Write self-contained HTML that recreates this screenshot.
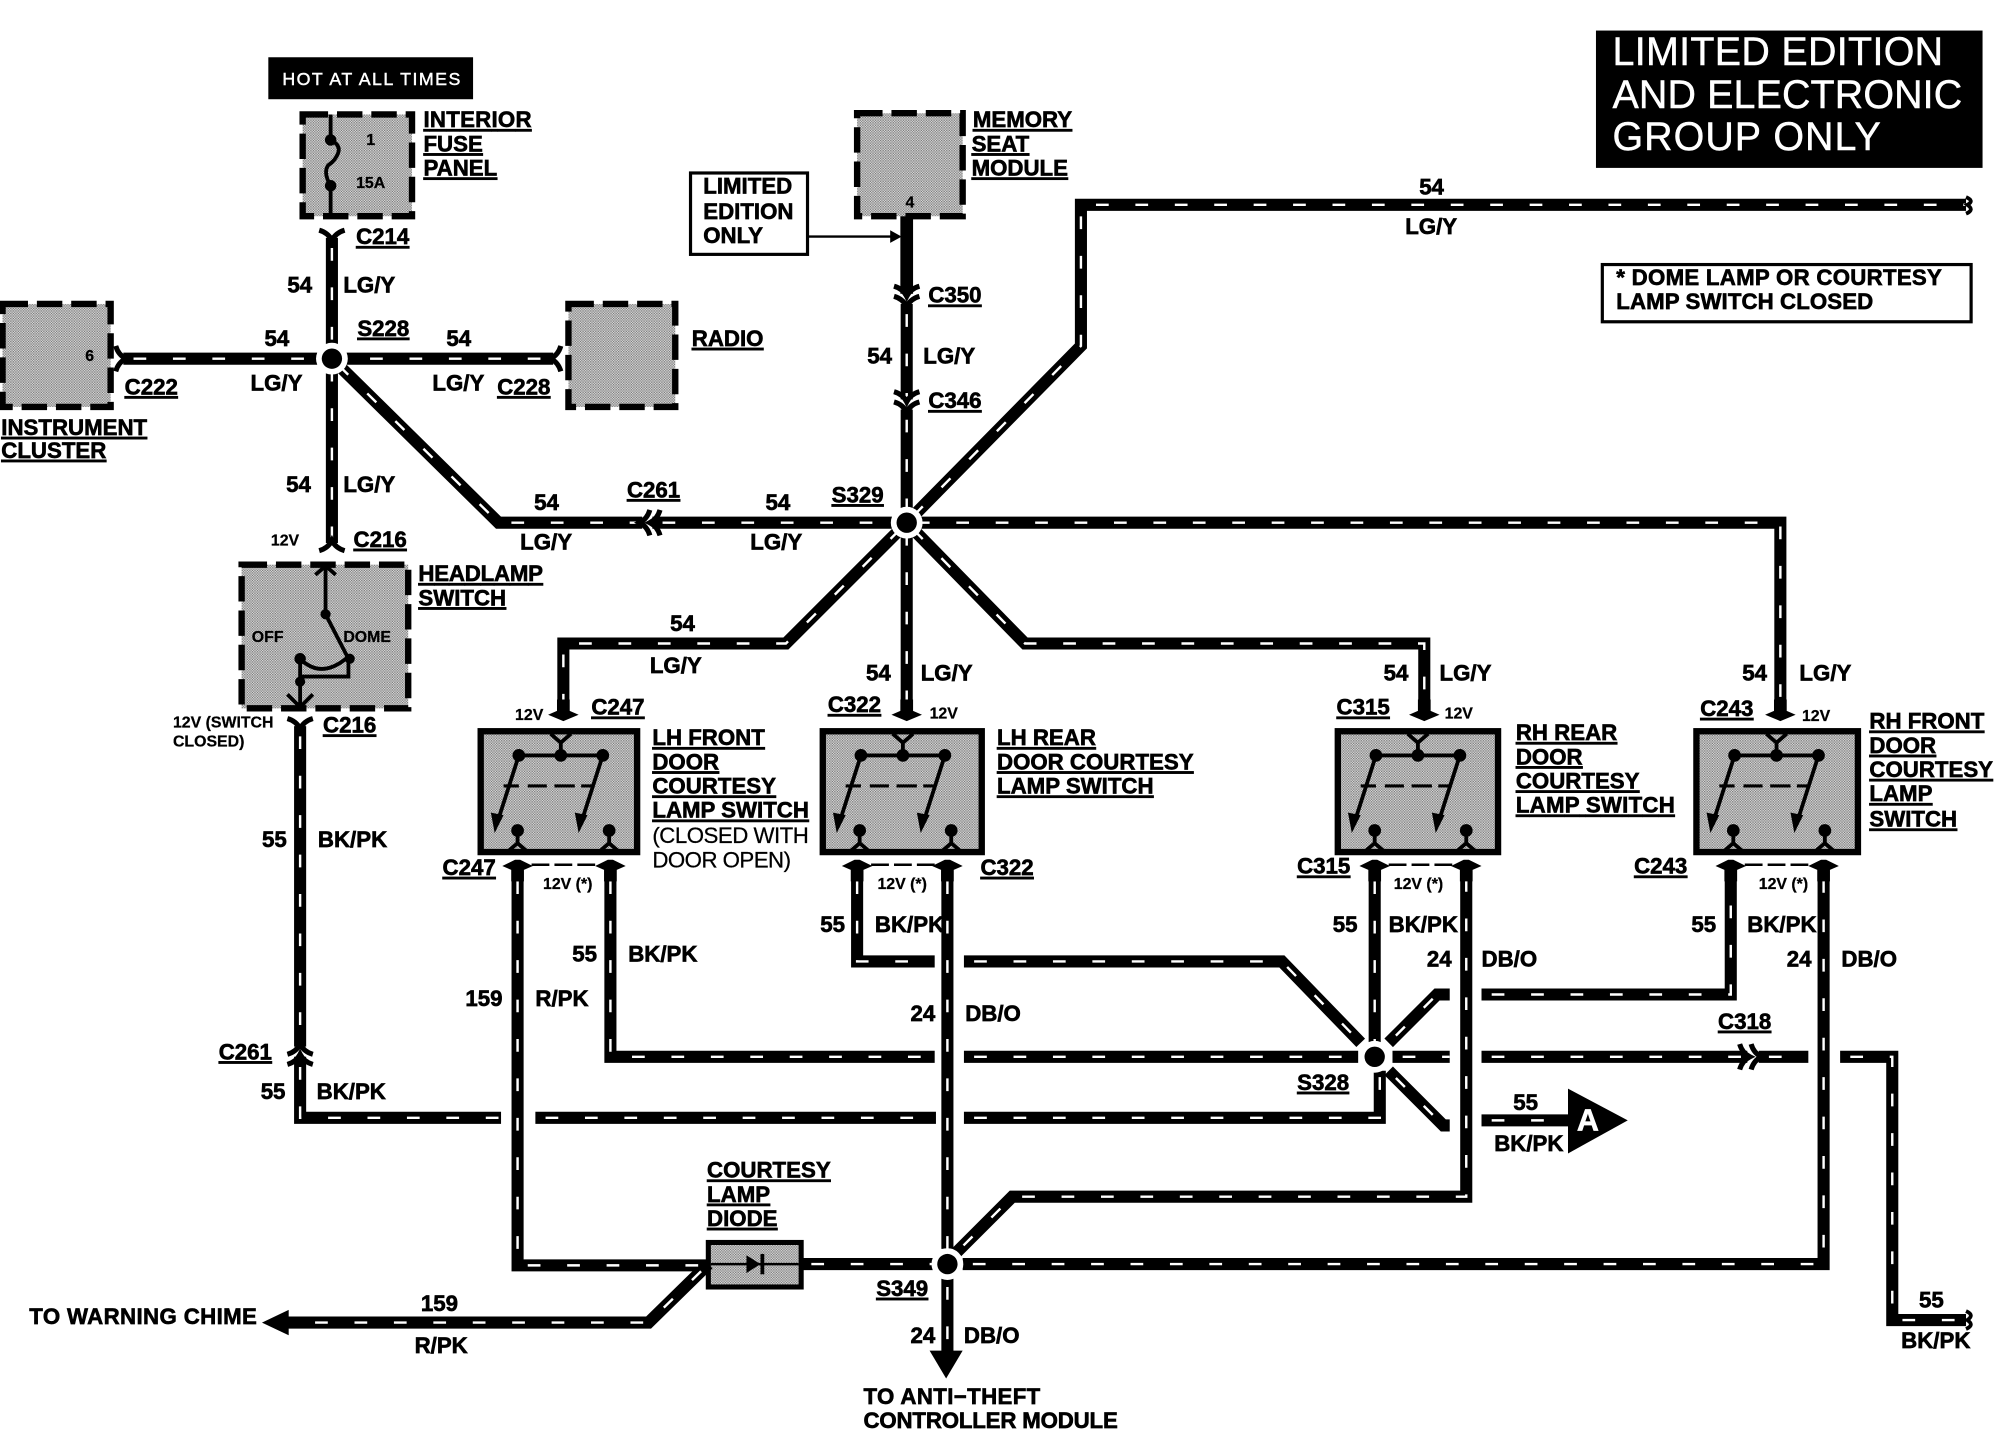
<!DOCTYPE html>
<html lang="en">
<head>
<meta charset="utf-8">
<title>Courtesy Lamp Wiring Diagram</title>
<style>
html,body{margin:0;padding:0;background:#fff;width:1994px;height:1440px;overflow:hidden}
svg{display:block}
text{font-family:"Liberation Sans",sans-serif;font-weight:bold;font-size:17.5px;fill:#000;stroke:#000;stroke-width:.5px}
.u{text-decoration:underline}
.s{font-size:12.5px;stroke-width:.2px}
.wt{fill:#fff;stroke:#fff;stroke-width:.35px;font-weight:normal}
.wb{fill:none;stroke:#000;stroke-width:9.5;stroke-linejoin:miter}
.wd{fill:none;stroke:#fff;stroke-width:1.9;stroke-dasharray:10 21;stroke-dashoffset:-8}
.box{fill:url(#st);stroke:#000;stroke-width:5;stroke-dasharray:20 7}
.sw{fill:url(#st);stroke:#000;stroke-width:5}
</style>
</head>
<body>
<svg xmlns="http://www.w3.org/2000/svg" width="1994" height="1440" viewBox="0 0 1568 1132.3">
<defs>
<pattern id="st" width="2" height="2" patternUnits="userSpaceOnUse">
<rect width="2" height="2" fill="#d6d6d6"/>
<rect width="1" height="1" fill="#7c7c7c"/>
<rect x="1" y="1" width="1" height="1" fill="#8c8c8c"/>
</pattern>
<g id="w">
<path d="M261 187V282M97 282H435M261 282V427M261 282L392 411H505M513 411H713"/>
<path d="M713 239V314M713 322V411M713 411L850 272V161H1546"/>
<path d="M713 411H1400V560M713 411L618 506H443V558M713 411V560M713 411L806 506H1120V560"/>
<path d="M236 571V823M236 831V879H394M421 879H736M758 879H1085V842"/>
<path d="M407 685V995H557M480 685V831H735M758 831H1068M1095 831H1140M1165 831H1374M1383 831H1422M1447 831H1488V1038H1546"/>
<path d="M630 994H735M757 994H1434V685M745 685V982M745 1004V1065"/>
<path d="M752 985L796 941H1153V685"/>
<path d="M674 685V756H735M758 756H1008L1070 820M1081 685V820"/>
<path d="M1092 820L1130 782H1140M1092 842L1135 885H1140"/>
<path d="M1165 782H1361V685M1165 881H1235"/>
<path d="M557 994L510 1040H222"/>
</g>
<path id="fork" d="M-10 -6Q-3 -4 0 2Q3 -4 10 -6" fill="none" stroke="#000" stroke-width="4"/>
<polygon id="dn" points="-5,-12 5,-12 5,-3 12,0 0,5 -12,0 -5,-3"/>
<polygon id="up" points="-5,12 5,12 5,3 12,0 2,-5 -2,-5 -12,0 -5,3"/>
<g id="sws">
<path d="M30 19H96M30 19L13 72M96 19L79 72" fill="none" stroke="#000" stroke-width="3"/>
<path d="M18 43H30M37 43H52M58 43H74M79 43H88" fill="none" stroke="#000" stroke-width="2.5"/>
<polygon points="8,64 18,66 11,80"/>
<polygon points="74,64 84,66 77,80"/>
<circle cx="30" cy="19" r="5"/><circle cx="96" cy="19" r="5"/><circle cx="63" cy="19" r="5"/>
<path d="M63 19V8M55 2L63 9L71 2" fill="none" stroke="#000" stroke-width="3"/>
<circle cx="29" cy="78" r="5"/><circle cx="101" cy="78" r="5"/>
<path d="M29 78V89M22 94L29 88L36 94M101 78V89M94 94L101 88L108 94" fill="none" stroke="#000" stroke-width="3"/>
</g>
<g id="spl"><circle r="12.5" fill="#fff"/><circle r="8" fill="#000"/></g>
</defs>

<rect width="1568" height="1133" fill="#fff"/>

<!-- component boxes -->
<rect class="box" x="238" y="90" width="86" height="80"/>
<rect class="box" x="674" y="89" width="83" height="81"/>
<rect class="box" x="2" y="239" width="85" height="81"/>
<rect class="box" x="447" y="239" width="84" height="81"/>
<rect class="box" x="190" y="444" width="131" height="113"/>
<rect class="sw" x="378" y="575" width="123" height="95"/>
<rect class="sw" x="647" y="575" width="125" height="95"/>
<rect class="sw" x="1052" y="575" width="126" height="95"/>
<rect class="sw" x="1334" y="575" width="127" height="95"/>
<use href="#sws" x="378" y="575"/>
<use href="#sws" x="647" y="575"/>
<use href="#sws" x="1052" y="575"/>
<use href="#sws" x="1334" y="575"/>
<rect x="557" y="977" width="73" height="35" fill="url(#st)" stroke="#000" stroke-width="4"/>
<path d="M559 994H628" stroke="#000" stroke-width="2"/>
<polygon points="587,987 598,994 587,1001"/>
<rect x="598" y="986" width="3" height="16"/>

<!-- fuse -->
<path d="M260 90V110Q268 114 266 120Q264 126 258 130Q254 136 260 146V170" fill="none" stroke="#000" stroke-width="3"/>
<circle cx="260" cy="110" r="4.5"/><circle cx="260" cy="146" r="4.5"/>

<!-- headlamp switch -->
<path d="M256 445V483L274 518V532H236V518M236 518Q252 534 272 518" fill="none" stroke="#000" stroke-width="3"/>
<circle cx="256" cy="483" r="4"/><circle cx="275" cy="518" r="4"/><circle cx="236" cy="518" r="4.5"/><circle cx="236" cy="536" r="4"/>
<path d="M236 536V556M226 546L236 556L246 546M248 452L256 445L264 452" fill="none" stroke="#000" stroke-width="3"/>

<!-- wires -->
<use href="#w" class="wb"/>
<use href="#w" class="wd"/>
<path d="M713 170V231" stroke="#000" stroke-width="10" fill="none"/>
<path d="M635 186H706" stroke="#000" stroke-width="1.8"/>
<polygon points="700,181 709,186 700,191"/>

<!-- connector forks -->
<use href="#fork" transform="translate(261,187)"/>
<use href="#fork" transform="translate(97,282) rotate(-90)"/>
<use href="#fork" transform="translate(435,282) rotate(90)"/>
<use href="#fork" transform="translate(261,427) rotate(180)"/>
<use href="#fork" transform="translate(236,571)"/>
<use href="#fork" transform="translate(236,823) rotate(180)"/>
<use href="#fork" transform="translate(236,831) rotate(180)"/>
<use href="#fork" transform="translate(713,231)"/>
<use href="#fork" transform="translate(713,239)"/>
<use href="#fork" transform="translate(713,314)"/>
<use href="#fork" transform="translate(713,322)"/>
<use href="#fork" transform="translate(505,411) rotate(90)"/>
<use href="#fork" transform="translate(513,411) rotate(90)"/>
<use href="#fork" transform="translate(1374,831) rotate(-90)"/>
<use href="#fork" transform="translate(1383,831) rotate(-90)"/>
<path d="M1546 1031Q1553 1034 1547 1038Q1553 1042 1546 1045M1546 155Q1553 158 1547 161Q1553 165 1546 168" fill="none" stroke="#000" stroke-width="3"/>

<!-- arrows -->
<use href="#dn" x="443" y="562"/>
<use href="#dn" x="713" y="562"/>
<use href="#dn" x="1120" y="562"/>
<use href="#dn" x="1400" y="562"/>
<use href="#up" x="407" y="681"/><use href="#up" x="480" y="681"/>
<use href="#up" x="674" y="681"/><use href="#up" x="745" y="681"/>
<use href="#up" x="1081" y="681"/><use href="#up" x="1153" y="681"/>
<use href="#up" x="1361" y="681"/><use href="#up" x="1434" y="681"/>
<path d="M418 680H470M685 680H735M1092 680H1143M1372 680H1424" stroke="#000" stroke-width="2" stroke-dasharray="14 4"/>
<polygon points="731,1062 757,1062 744,1084"/>
<polygon points="227,1030 227,1050 206,1040"/>
<polygon points="1233,856 1280,881 1233,907"/>

<!-- splices -->
<use href="#spl" x="261" y="282"/>
<use href="#spl" x="713" y="411"/>
<use href="#spl" x="1081" y="831"/>
<use href="#spl" x="745" y="994"/>

<!-- title boxes -->
<rect x="211" y="45" width="161" height="33"/>
<text x="222" y="67" class="wt" style="font-size:14px" textLength="140">HOT AT ALL TIMES</text>
<rect x="1255" y="24" width="304" height="108"/>
<text x="1268" y="51" class="wt" style="font-size:31px" textLength="260">LIMITED EDITION</text>
<text x="1268" y="85" class="wt" style="font-size:31px" textLength="275">AND ELECTRONIC</text>
<text x="1268" y="118" class="wt" style="font-size:31px" textLength="211">GROUP  ONLY</text>
<rect x="543" y="136" width="92" height="64" fill="none" stroke="#000" stroke-width="2.5"/>
<text x="553" y="152">LIMITED</text><text x="553" y="172">EDITION</text><text x="553" y="191">ONLY</text>
<rect x="1260" y="208" width="290" height="45" fill="none" stroke="#000" stroke-width="2.5"/>
<text x="1271" y="224" textLength="256">* DOME LAMP OR COURTESY</text>
<text x="1271" y="243" textLength="202">LAMP SWITCH CLOSED</text>

<!-- component labels -->
<g>
<text class="u" x="333" y="100" textLength="85">INTERIOR</text><text class="u" x="333" y="119">FUSE</text><text class="u" x="333" y="138">PANEL</text>
<text class="u" x="765" y="100">MEMORY</text><text class="u" x="764" y="119">SEAT</text><text class="u" x="764" y="138">MODULE</text>
<text class="u" x="544" y="272">RADIO</text>
<text class="u" x="1" y="342">INSTRUMENT</text><text class="u" x="1" y="360">CLUSTER</text>
<text class="u" x="329" y="457" textLength="98">HEADLAMP</text><text class="u" x="329" y="476">SWITCH</text>
<text class="u" x="513" y="586">LH FRONT</text><text class="u" x="513" y="605">DOOR</text><text class="u" x="513" y="624">COURTESY</text><text class="u" x="513" y="643">LAMP SWITCH</text>
<text class="u" x="784" y="586">LH REAR</text><text class="u" x="784" y="605">DOOR COURTESY</text><text class="u" x="784" y="624">LAMP SWITCH</text>
<text class="u" x="1192" y="582">RH REAR</text><text class="u" x="1192" y="601">DOOR</text><text class="u" x="1192" y="620">COURTESY</text><text class="u" x="1192" y="639" textLength="125">LAMP SWITCH</text>
<text class="u" x="1470" y="573">RH FRONT</text><text class="u" x="1470" y="592">DOOR</text><text class="u" x="1470" y="611">COURTESY</text><text class="u" x="1470" y="630">LAMP</text><text class="u" x="1470" y="650">SWITCH</text>
<text class="u" x="556" y="926">COURTESY</text><text class="u" x="556" y="945">LAMP</text><text class="u" x="556" y="964">DIODE</text>
<text class="u" x="280" y="192">C214</text><text class="u" x="281" y="264">S228</text><text class="u" x="98" y="310">C222</text><text class="u" x="391" y="310">C228</text>
<text class="u" x="278" y="430">C216</text><text class="u" x="254" y="576">C216</text>
<text class="u" x="493" y="391">C261</text><text class="u" x="654" y="395">S329</text>
<text class="u" x="730" y="238">C350</text><text class="u" x="730" y="321">C346</text>
<text class="u" x="465" y="562">C247</text><text class="u" x="651" y="560">C322</text><text class="u" x="1051" y="562">C315</text><text class="u" x="1337" y="563">C243</text>
<text class="u" x="348" y="688">C247</text><text class="u" x="771" y="688">C322</text><text class="u" x="1020" y="687">C315</text><text class="u" x="1285" y="687">C243</text>
<text class="u" x="1351" y="809">C318</text><text class="u" x="172" y="833">C261</text><text class="u" x="1020" y="857">S328</text><text class="u" x="689" y="1019">S349</text>
</g>
<text x="513" y="663" style="stroke-width:.2px;font-weight:normal" textLength="123">(CLOSED WITH</text>
<text x="513" y="682" style="stroke-width:.2px;font-weight:normal" textLength="109">DOOR OPEN)</text>

<!-- wire labels -->
<text x="226" y="230">54</text><text x="270" y="230">LG/Y</text>
<text x="208" y="272">54</text><text x="351" y="272">54</text>
<text x="197" y="307">LG/Y</text><text x="340" y="307">LG/Y</text>
<text x="225" y="387">54</text><text x="270" y="387">LG/Y</text>
<text x="420" y="401">54</text><text x="602" y="401">54</text>
<text x="409" y="432">LG/Y</text><text x="590" y="432">LG/Y</text>
<text x="1116" y="153">54</text><text x="1105" y="184">LG/Y</text>
<text x="682" y="286">54</text><text x="726" y="286">LG/Y</text>
<text x="527" y="496">54</text><text x="511" y="529">LG/Y</text>
<text x="681" y="535">54</text><text x="724" y="535">LG/Y</text>
<text x="1088" y="535">54</text><text x="1132" y="535">LG/Y</text>
<text x="1370" y="535">54</text><text x="1415" y="535">LG/Y</text>
<text x="206" y="666">55</text><text x="250" y="666">BK/PK</text>
<text x="645" y="733">55</text><text x="688" y="733">BK/PK</text>
<text x="1048" y="733">55</text><text x="1092" y="733">BK/PK</text>
<text x="1330" y="733">55</text><text x="1374" y="733">BK/PK</text>
<text x="450" y="756">55</text><text x="494" y="756">BK/PK</text>
<text x="1122" y="760">24</text><text x="1165" y="760">DB/O</text>
<text x="1405" y="760">24</text><text x="1448" y="760">DB/O</text>
<text x="366" y="791">159</text><text x="421" y="791">R/PK</text>
<text x="716" y="803">24</text><text x="759" y="803">DB/O</text>
<text x="205" y="864">55</text><text x="249" y="864">BK/PK</text>
<text x="1190" y="873">55</text><text x="1175" y="905">BK/PK</text>
<text x="1240" y="889" style="fill:#fff;stroke:#fff;font-size:24px">A</text>
<text x="23" y="1041" textLength="179">TO WARNING CHIME</text>
<text x="331" y="1031">159</text><text x="326" y="1064">R/PK</text>
<text x="716" y="1056">24</text><text x="758" y="1056">DB/O</text>
<text x="679" y="1104" textLength="139">TO ANTI−THEFT</text><text x="679" y="1123" textLength="200">CONTROLLER MODULE</text>
<text x="1509" y="1028">55</text><text x="1495" y="1060">BK/PK</text>

<!-- small labels -->
<text class="s" x="213" y="429">12V</text>
<text class="s" x="136" y="572">12V (SWITCH</text><text class="s" x="136" y="587">CLOSED)</text>
<text class="s" x="405" y="566">12V</text><text class="s" x="731" y="565">12V</text><text class="s" x="1136" y="565">12V</text><text class="s" x="1417" y="567">12V</text>
<text class="s" x="427" y="699">12V (*)</text><text class="s" x="690" y="699">12V (*)</text><text class="s" x="1096" y="699">12V (*)</text><text class="s" x="1383" y="699">12V (*)</text>
<text class="s" x="198" y="505">OFF</text><text class="s" x="270" y="505">DOME</text>
<text class="s" x="288" y="114">1</text><text class="s" x="280" y="148">15A</text>
<text class="s" x="67" y="284">6</text><text class="s" x="712" y="163">4</text>
</svg>
</body>
</html>
